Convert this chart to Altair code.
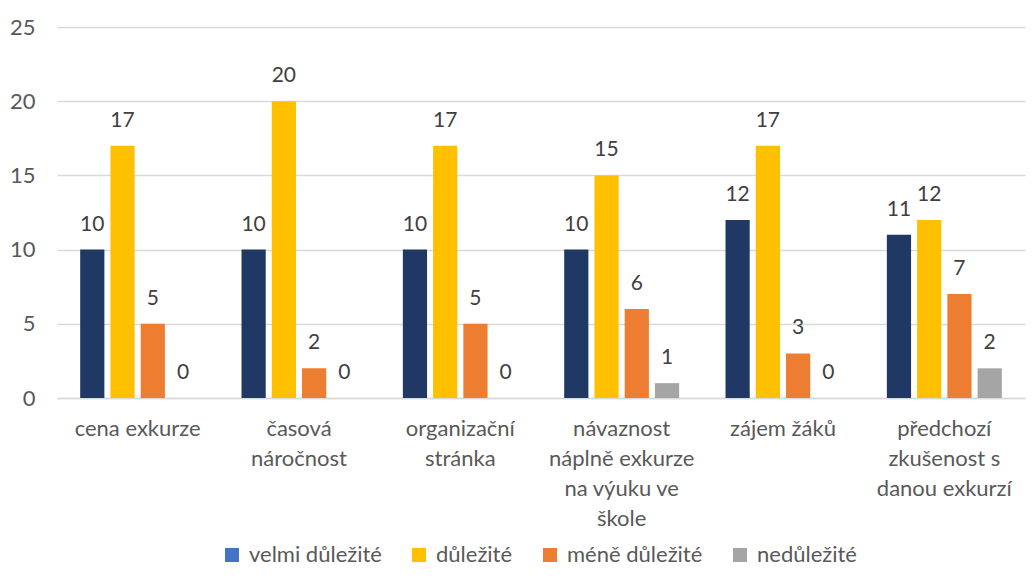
import altair as alt
import pandas as pd

categories = [
    "cena exkurze",
    "časová náročnost",
    "organizační stránka",
    "návaznost náplně exkurze na výuku ve škole",
    "zájem žáků",
    "předchozí zkušenost s danou exkurzí",
]
category_lines = {
    "cena exkurze": ["cena exkurze"],
    "časová náročnost": ["časová", "náročnost"],
    "organizační stránka": ["organizační", "stránka"],
    "návaznost náplně exkurze na výuku ve škole": ["návaznost", "náplně exkurze", "na výuku ve", "škole"],
    "zájem žáků": ["zájem žáků"],
    "předchozí zkušenost s danou exkurzí": ["předchozí", "zkušenost s", "danou exkurzí"],
}
series = ["velmi důležité", "důležité", "méně důležité", "nedůležité"]
velmi = [10, 10, 10, 10, 12, 11]
dulezite = [17, 20, 17, 15, 17, 12]
mene = [5, 2, 5, 6, 3, 7]
nedulezite = [0, 0, 0, 1, 0, 2]

bar_colors = ["#203864", "#FFC000", "#ED7D31", "#A5A5A5"]
legend_colors = ["#4472C4", "#FFC000", "#ED7D31", "#A5A5A5"]

rows = []
for vals, s in zip([velmi, dulezite, mene, nedulezite], series):
    for c, v in zip(categories, vals):
        rows.append({"kategorie": c, "skupina": s, "hodnota": v})
df = pd.DataFrame(rows)

FONT = "Lato"
TXT = "#595959"

label_map = "{" + ", ".join(
    "'" + k + "': [" + ", ".join("'" + l + "'" for l in v) + "]" for k, v in category_lines.items()
) + "}"

x_enc = alt.X(
    "kategorie:N",
    sort=categories,
    title=None,
    scale=alt.Scale(paddingInner=0.25, paddingOuter=0.125),
    axis=alt.Axis(
        labelAngle=0,
        labelFont=FONT,
        labelFontSize=22,
        labelColor=TXT,
        labelPadding=20,
        labelLineHeight=30,
        labelExpr=label_map + "[datum.label]",
        domainColor="#D9D9D9",
        domainWidth=1.5,
        ticks=False,
        grid=False,
    ),
)
xoff = alt.XOffset(
    "skupina:N", sort=series, scale=alt.Scale(paddingInner=0.2, paddingOuter=0.1)
)
y_enc = alt.Y(
    "hodnota:Q",
    title=None,
    scale=alt.Scale(domain=[0, 25]),
    axis=alt.Axis(
        values=[0, 5, 10, 15, 20, 25],
        labelFont=FONT,
        labelFontSize=22,
        labelColor=TXT,
        labelPadding=22,
        domain=False,
        ticks=False,
        gridColor="#D9D9D9",
        gridWidth=1.5,
    ),
)

base = alt.Chart(df)

bars = base.mark_bar().encode(
    x=x_enc,
    xOffset=xoff,
    y=y_enc,
    color=alt.Color(
        "skupina:N", sort=series, scale=alt.Scale(domain=series, range=bar_colors), legend=None
    ),
)

legend_layer = base.mark_square(opacity=0, size=0).encode(
    x=x_enc,
    xOffset=xoff,
    y=y_enc,
    fill=alt.Fill(
        "skupina:N",
        sort=series,
        scale=alt.Scale(domain=series, range=legend_colors),
        legend=alt.Legend(
            title=None,
            orient="none",
            legendX=164,
            legendY=517,
            direction="horizontal",
            columns=4,
            symbolType="square",
            symbolSize=196,
            symbolOpacity=1,
            symbolStrokeWidth=0,
            labelFont=FONT,
            labelFontSize=22,
            labelColor=TXT,
            labelOffset=6,
            columnPadding=26,
        ),
    ),
)

labels = base.mark_text(
    baseline="alphabetic", dy=-19, font=FONT, fontSize=21, color="#404040"
).encode(
    x=x_enc,
    xOffset=xoff,
    y=y_enc,
    text=alt.Text("hodnota:Q"),
)

chart = (
    alt.layer(bars, legend_layer, labels)
    .resolve_scale(color="independent", fill="independent")
    .properties(
        width=968,
        height=371,
        autosize=alt.AutoSizeParams(type="none"),
        padding={"left": 49, "top": 19, "right": 1, "bottom": 172},
        view=alt.ViewBackground(stroke="transparent", strokeWidth=0),
    )
    .configure_view(stroke="transparent", strokeWidth=0)
    .configure(background="white")
)

chart.save("out.html", embed_options={"renderer": "svg", "actions": False})
